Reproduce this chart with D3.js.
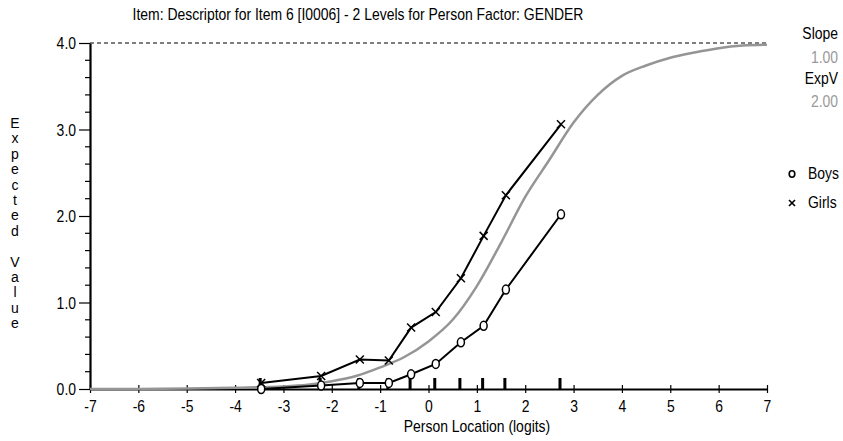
<!DOCTYPE html>
<html>
<head>
<meta charset="utf-8">
<script src="https://cdn.jsdelivr.net/npm/d3@7"></script>
<style>
    body { margin: 0; background: #fff; }
    text { font-family: "Liberation Sans", Arial, sans-serif; fill: #000; }
</style>
</head>
<body>
<script>
const width = 843;
const height = 441;
const margin = { top: 43, right: 76, bottom: 52, left: 90 };

// class interval locations (logits) and observed means
const classLocations = [-3.46, -2.22, -1.42, -0.82, -0.36, 0.15, 0.67, 1.14, 1.6, 2.74];
const boysValues = [0.0, 0.04, 0.07, 0.07, 0.17, 0.29, 0.54, 0.73, 1.15, 2.02];
const girlsValues = [0.07, 0.15, 0.34, 0.33, 0.71, 0.89, 1.28, 1.77, 2.24, 3.06];

// expected value curve
const curveLocations = [-7, -6, -5, -4, -3, -2.5, -2, -1.5, -1, -0.5, 0, 0.5, 1, 1.5, 2, 2.5, 3, 3.5, 4, 4.5, 5, 5.5, 6, 6.5, 7];
const curveValues = [0.0, 0.0, 0.005, 0.015, 0.03, 0.05, 0.09, 0.15, 0.25, 0.37, 0.55, 0.8, 1.19, 1.69, 2.22, 2.65, 3.08, 3.4, 3.62, 3.74, 3.83, 3.89, 3.94, 3.97, 3.98];

const xTicks = [-7, -6, -5, -4, -3, -2, -1, 0, 1, 2, 3, 4, 5, 6, 7];
const yTicks = [0, 1, 2, 3, 4];
const yMinorTicks = [0.2, 0.4, 0.6, 0.8, 1.2, 1.4, 1.6, 1.8, 2.2, 2.4, 2.6, 2.8, 3.2, 3.4, 3.6, 3.8];
const yLabel = "Expected Value";

// squeeze text horizontally to mimic a narrow face
const narrow = (sel, k = 0.82) => {
    sel.each(function () {
        const w = this.getComputedTextLength();
        d3.select(this).attr("textLength", w * k).attr("lengthAdjust", "spacingAndGlyphs");
    });
};

const svg = d3.select("body").append("svg").attr("width", width).attr("height", height);

const x = d3.scaleLinear().domain([-7, 7]).range([margin.left, width - margin.right]);
const y = d3.scaleLinear().domain([0, 4]).range([height - margin.bottom, margin.top]);

// title
svg.append("text")
    .attr("x", 358)
    .attr("y", 20)
    .attr("text-anchor", "middle")
    .style("font-size", "17px")
    .text("Item: Descriptor for Item 6 [I0006] - 2 Levels for Person Factor: GENDER")
    .call(narrow);

// dashed max line
svg.append("line")
    .attr("x1", x(-7)).attr("x2", x(7))
    .attr("y1", y(4)).attr("y2", y(4))
    .attr("stroke", "#000")
    .attr("stroke-dasharray", "4,3");

// y axis
const yAxis = svg.append("g")
    .attr("transform", `translate(${margin.left},0)`)
    .call(d3.axisLeft(y).tickValues(yTicks).tickSize(11).tickSizeOuter(0).tickFormat(d3.format(".1f")));
yAxis.attr("font-family", null);
yAxis.select(".domain").attr("stroke-width", 2.2);
yAxis.selectAll(".tick line").attr("stroke-width", 1.2);
yAxis.selectAll(".tick text")
    .attr("x", -14)
    .attr("dy", "0.35em")
    .style("font-size", "17px")
    .call(narrow);

yAxis.selectAll(".minor")
    .data(yMinorTicks)
    .join("line")
    .attr("class", "minor")
    .attr("x1", -5).attr("x2", 0)
    .attr("y1", (d) => y(d)).attr("y2", (d) => y(d))
    .attr("stroke", "#000")
    .attr("stroke-width", 1.2);

// x axis
const xAxis = svg.append("g")
    .attr("transform", `translate(0,${y(0)})`)
    .call(d3.axisBottom(x).tickValues(xTicks).tickSize(4).tickSizeOuter(0).tickFormat((d) => String(d)));
xAxis.attr("font-family", null);
xAxis.select(".domain").attr("stroke-width", 2.2);
xAxis.selectAll(".tick line").attr("y1", -4).attr("y2", 4).attr("stroke-width", 1.2);
xAxis.selectAll(".tick text")
    .attr("y", 23)
    .attr("dy", 0)
    .style("font-size", "17px")
    .call(narrow);

svg.append("text")
    .attr("x", 477)
    .attr("y", 432)
    .attr("text-anchor", "middle")
    .style("font-size", "17px")
    .text("Person Location (logits)")
    .call(narrow);

// vertical y label, one letter per line
svg.append("g")
    .selectAll("text")
    .data(yLabel.split(""))
    .join("text")
    .attr("x", 15)
    .attr("y", (d, i) => 128 + i * 15.4)
    .attr("text-anchor", "middle")
    .style("font-size", "14px")
    .text((d) => d);

// location bars on the axis
svg.append("g")
    .selectAll("rect")
    .data(classLocations)
    .join("rect")
    .attr("x", (d) => x(d) - 2.5)
    .attr("y", y(0) - 11)
    .attr("width", 3)
    .attr("height", 11)
    .attr("fill", "#000");

// expected curve
const line = d3.line().x((d) => x(d[0])).y((d) => y(d[1]));
svg.append("path")
    .datum(d3.zip(curveLocations, curveValues))
    .attr("d", line.curve(d3.curveMonotoneX))
    .attr("fill", "none")
    .attr("stroke", "#959595")
    .attr("stroke-width", 2.5);

const obsLine = d3.line().x((d) => x(d[0])).y((d) => y(d[1]));

// girls
const girls = d3.zip(classLocations, girlsValues);
svg.append("path")
    .datum(girls)
    .attr("d", obsLine)
    .attr("fill", "none")
    .attr("stroke", "#000")
    .attr("stroke-width", 2);
const cross = (g, s) => {
    g.append("line").attr("x1", -s).attr("x2", s).attr("y1", -s).attr("y2", s);
    g.append("line").attr("x1", -s).attr("x2", s).attr("y1", s).attr("y2", -s);
};
svg.append("g")
    .attr("stroke", "#000")
    .attr("stroke-width", 1.5)
    .selectAll("g")
    .data(girls)
    .join("g")
    .attr("transform", (d) => `translate(${x(d[0])},${y(d[1])})`)
    .each(function () { cross(d3.select(this), 4); });

// boys
const boys = d3.zip(classLocations, boysValues);
svg.append("path")
    .datum(boys)
    .attr("d", obsLine)
    .attr("fill", "none")
    .attr("stroke", "#000")
    .attr("stroke-width", 2);
svg.append("g")
    .selectAll("ellipse")
    .data(boys)
    .join("ellipse")
    .attr("cx", (d) => x(d[0]))
    .attr("cy", (d) => y(d[1]))
    .attr("rx", 3.5)
    .attr("ry", 4.5)
    .attr("fill", "#fff")
    .attr("stroke", "#000")
    .attr("stroke-width", 1.5);

// right panel (scaled groups so the box is the drawn width)
const info = [
    { t: "Slope", y: 39, c: "#000" },
    { t: "1.00", y: 63, c: "#999" },
    { t: "ExpV", y: 84, c: "#000" },
    { t: "2.00", y: 107, c: "#999" },
];
svg.append("g")
    .selectAll("text")
    .data(info)
    .join("text")
    .attr("transform", (d) => `translate(838,${d.y}) scale(0.82,1)`)
    .attr("text-anchor", "end")
    .style("font-size", "17px")
    .style("fill", (d) => d.c)
    .text((d) => d.t);

// legend
const legend = svg.append("g");
legend.append("ellipse")
    .attr("cx", 792).attr("cy", 174)
    .attr("rx", 2.8).attr("ry", 3.2)
    .attr("fill", "none").attr("stroke", "#000").attr("stroke-width", 1.6);
legend.append("text")
    .attr("transform", "translate(808,179) scale(0.82,1)")
    .style("font-size", "17px")
    .text("Boys");
const lx = legend.append("g").attr("transform", "translate(792,203)").attr("stroke", "#000").attr("stroke-width", 1.6);
cross(lx, 3);
legend.append("text")
    .attr("transform", "translate(808,208) scale(0.82,1)")
    .style("font-size", "17px")
    .text("Girls");
</script>
</body>
</html>
